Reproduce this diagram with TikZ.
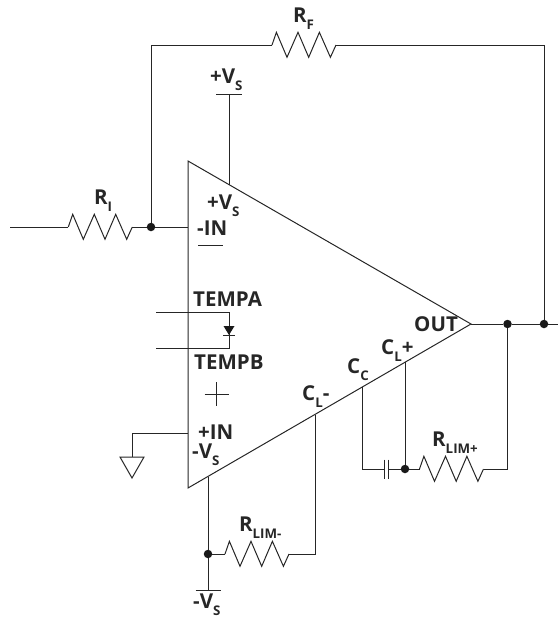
\documentclass[tikz,border=0pt]{standalone}
\usepackage{fontspec}
\setmainfont{Open Sans}
\usetikzlibrary{calc,positioning}
\newcommand{\sublab}[2]{#1\raisebox{-7pt}{\fontsize{13.3}{13.3}\selectfont #2}}
\tikzset{
	wire/.style={draw=black!85,line width=1pt},
	dot/.style={circle,fill=black!90,inner sep=0pt,minimum size=8.5pt},
	lab/.style={anchor=base west,inner sep=0pt,text=black!85,font=\fontsize{20.5}{20.5}\selectfont\bfseries},
	zigzag/.pic={
		\draw[wire] (0,0) -- (4.4,-12.7) -- (15,12.3) -- (26,-12.7) -- (36.7,12.3) -- (47.4,-12.7) -- (58.4,12.3) -- (64,0);
		\coordinate (-in) at (0,0);
		\coordinate (-out) at (64,0);
	}
}

\begin{document}
\begin{tikzpicture}[x=1pt,y=-1pt]
\useasboundingbox (0,0) rectangle (558,619);

% amplifier
\coordinate (ampt) at (188,161);
\coordinate (ampb) at (188,488);
\coordinate (ampo) at (471,324);
\draw[wire] (ampt) -- (ampo) -- (ampb) -- cycle;

% junctions
\node[dot] (nin) at (151,227) {};
\node[dot] (nout) at (507.5,324) {};
\node[dot] (nfb) at (544,324) {};
\node[dot] (nlimp) at (405,469) {};
\node[dot] (nlimm) at (208,554) {};

% resistors
\pic (ri) at (68.3,227) {zigzag};
\pic (rf) at (272,45) {zigzag};
\pic (rlimp) at (419.5,469) {zigzag};
\pic (rlimm) at (225,554) {zigzag};

% input and feedback
\coordinate (vin) at (10,227);
\coordinate (inm) at (188,227);
\coordinate (fbl) at (151,45);
\coordinate (fbr) at (544,45);
\coordinate (vout) at (558,324);
\draw[wire] (vin) -- (ri-in);
\draw[wire] (ri-out) -- (nin) -- (inm);
\draw[wire] (nin) -- (fbl) -- (rf-in);
\draw[wire] (rf-out) -- (fbr) -- (nfb);
\draw[wire] (ampo) -- (nout) -- (nfb) -- (vout);

% supplies
\coordinate (vsp) at (229,94);
\coordinate (vspin) at (229,184.6);
\coordinate (vsm) at (208,590);
\coordinate (vsmin) at (208,476.5);
\draw[wire] (vsp) -- (vspin);
\draw[wire] ($(vsp)+(-13,0)$) -- ($(vsp)+(13,0)$);
\draw[wire] (vsmin) -- (nlimm) -- (vsm);
\draw[wire] ($(vsm)+(-12.5,0)$) -- ($(vsm)+(12.5,0)$);

% current limit and compensation
\coordinate (clm) at (315,414.5);
\coordinate (clmb) at (315,554);
\coordinate (clp) at (405,362);
\coordinate (cc) at (362,387);
\coordinate (ccb) at (362,469);
\coordinate (capl) at (384,469);
\coordinate (capr) at (388.5,469);
\coordinate (outb) at (507.5,469);
\draw[wire] (nlimm) -- (rlimm-in);
\draw[wire] (rlimm-out) -- (clmb) -- (clm);
\draw[wire] (clp) -- (nlimp) -- (rlimp-in);
\draw[wire] (rlimp-out) -- (outb) -- (nout);
\draw[wire] (cc) -- (ccb) -- (capl);
\draw[wire] (capr) -- (nlimp);
\draw[wire] ($(capl)+(0,-9.5)$) -- ($(capl)+(0,9.5)$);
\draw[wire] ($(capr)+(0,-9.5)$) -- ($(capr)+(0,9.5)$);

% non inverting input and ground
\coordinate (inp) at (188,433);
\coordinate (gndc) at (132,433);
\coordinate (gndt) at (132,457);
\draw[wire] (inp) -- (gndc) -- (gndt);
\draw[wire] ($(gndt)+(-12,0)$) -- ($(gndt)+(12,0)$) -- ($(gndt)+(0,21)$) -- cycle;

% temperature diode
\coordinate (tempa) at (156,312);
\coordinate (tempb) at (156,348);
\coordinate (tempar) at (229,312);
\coordinate (tempbr) at (229,348);
\draw[wire] (tempa) -- (tempar) -- (tempbr) -- (tempb);
\fill[black!90] ($(tempar)+(-5.5,14)$) -- ($(tempar)+(5.5,14)$) -- ($(tempar)+(0,23)$) -- cycle;
\draw[wire] ($(tempar)+(-6,23)$) -- ($(tempar)+(6,23)$);

% polarity marks
\draw[wire,line width=0.6pt] (198,245) -- (223,245);
\draw[wire,line width=0.6pt] (204.5,394) -- (229,394);
\draw[wire,line width=0.6pt] (216.7,382) -- (216.7,406);

% labels
\node[lab] (lrf) at (293,22) {\sublab{R}{F}};
\node[lab] (lri) at (94,204) {\sublab{R}{I}};
\node[lab] (lvsp) at (210,83) {\sublab{+V}{S}};
\node[lab] (lvspin) at (207,209) {\sublab{+V}{S}};
\node[lab] (lim) at (197,235) {-IN};
\node[lab] (ltempa) at (193,306) {TEMPA};
\node[lab] (ltempb) at (194,369) {TEMPB};
\node[lab] (lip) at (198,439.5) {+IN};
\node[lab] (lvsmin) at (192,458) {\sublab{-V}{S}};
\node[lab] (lout) at (414,331) {OUT};
\node[lab] (lclp) at (381,354) {\sublab{C}{L}+};
\node[lab] (lcc) at (347,373) {\sublab{C}{C}};
\node[lab] (lclm) at (302,400) {\sublab{C}{L}-};
\node[lab] (lrlimp) at (432,446) {\sublab{R}{LIM+}};
\node[lab] (lrlimm) at (239,531) {\sublab{R}{LIM-}};
\node[lab] (lvsm) at (193,608.5) {\sublab{-V}{S}};

\end{tikzpicture}
\end{document}
